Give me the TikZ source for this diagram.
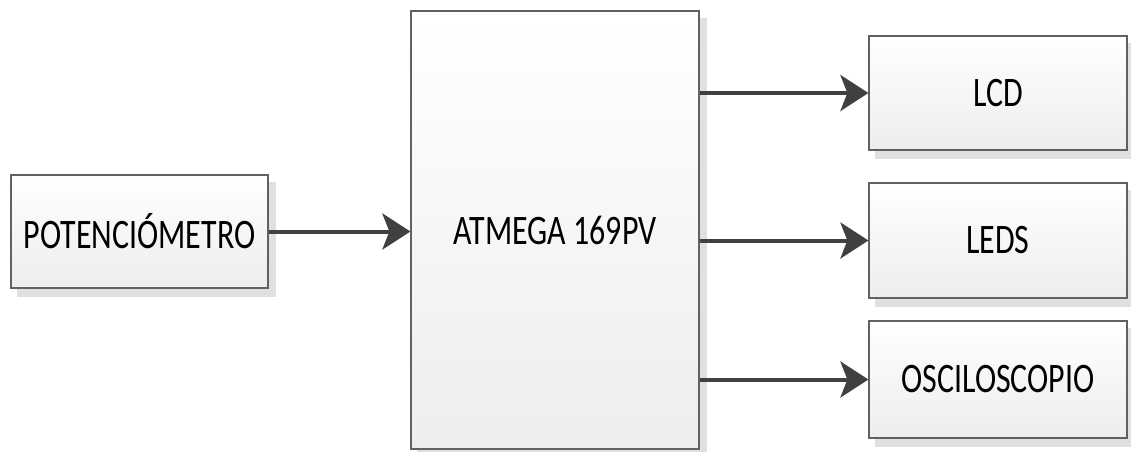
\documentclass[tikz,border=0pt]{standalone}
\usepackage{fontspec}
\setmainfont{Carlito}
\usetikzlibrary{arrows.meta,backgrounds}
\newcommand{\squeeze}[1]{\scalebox{0.76}[1]{#1}}
\tikzset{
  block/.style={draw=black!62, line width=1.2pt, top color=white, bottom color=black!7,
    font=\fontsize{42}{42}\selectfont, inner sep=0pt},
  link/.style={draw=black!75, line width=4pt, -{Stealth[length=28pt,width=36pt,inset=7pt]}},
}
\begin{document}
\begin{tikzpicture}[x=1pt,y=-1pt]
  \useasboundingbox (0,0) rectangle (1131,451);
  % blocks
  \node[block,minimum width=257pt,minimum height=113pt] (pot) at (139.5,231.5) {\squeeze{POTENCIÓMETRO}};
  \node[block,minimum width=288pt,minimum height=438pt] (atm) at (555,230) {\squeeze{ATMEGA 169PV}};
  \node[block,minimum width=258pt,minimum height=114pt] (lcd) at (998,93) {\squeeze{LCD}};
  \node[block,minimum width=258pt,minimum height=115pt] (leds) at (998,240.5) {\squeeze{LEDS}};
  \node[block,minimum width=258pt,minimum height=117pt] (osc) at (998,379.5) {\squeeze{OSCILOSCOPIO}};
  % shadows
  \begin{scope}[on background layer]
    \foreach \n in {pot,atm,lcd,leds,osc}
      \fill[black!12] ([shift={(7,8)}]\n.south west) rectangle ([shift={(7,8)}]\n.north east);
  \end{scope}
  % connections
  \draw[link] (pot.east) -- (pot.east -| atm.west);
  \draw[link] (atm.east |- lcd.west) -- (lcd.west);
  \draw[link] (atm.east |- leds.west) -- (leds.west);
  \draw[link] (atm.east |- osc.west) -- (osc.west);
\end{tikzpicture}
\end{document}
